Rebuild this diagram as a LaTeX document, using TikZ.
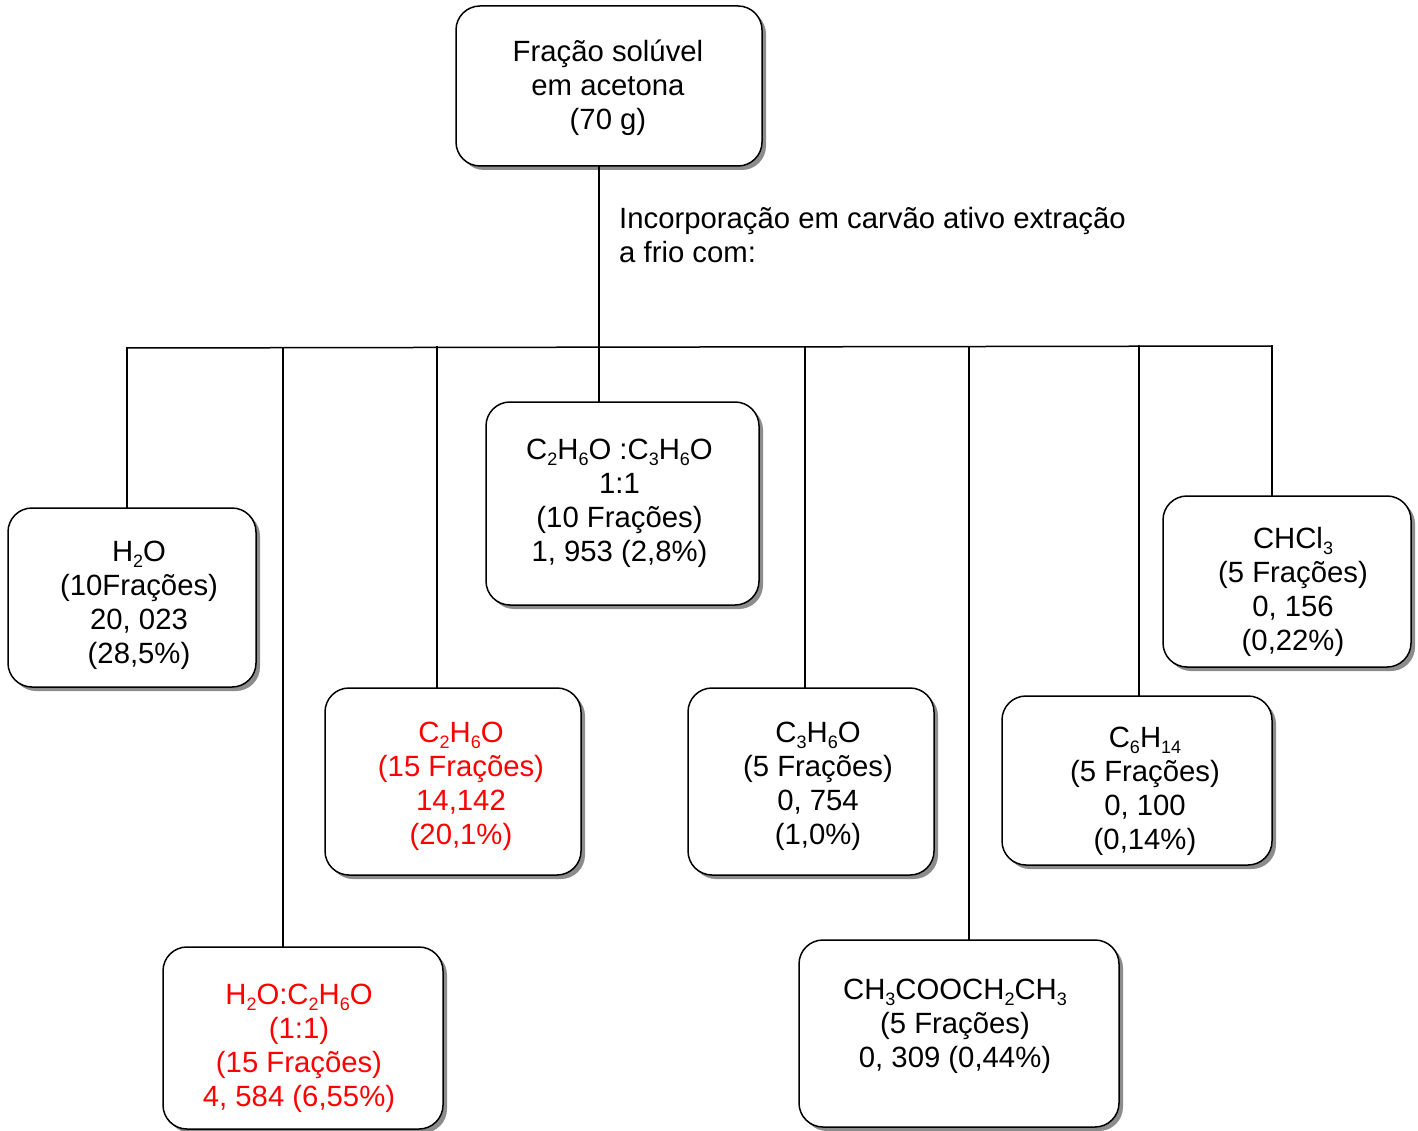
\documentclass[tikz,border=0pt]{standalone}
\usepackage{fontspec}
\setmainfont{Liberation Sans}
\usetikzlibrary{shadows}
\newcommand{\sbs}[1]{\raisebox{-6pt}{\fontsize{18}{18}\selectfont #1}}
\newcommand{\tx}[3]{\raisebox{#2}[\height][\depth]{\kern#1\begin{tabular}{@{}c@{}}#3\end{tabular}\kern-#1}}
\tikzset{
  box/.style={draw, line width=1.5pt, rounded corners=24pt, fill=white, align=center,
    drop shadow={shadow xshift=4pt, shadow yshift=-4pt, fill=black!45, opacity=1},
    font=\fontsize{29.3}{34}\selectfont, inner sep=0pt},
  redbox/.style={box, text=red},
  conn/.style={line width=1.5pt, line cap=rect}
}
\begin{document}
\begin{tikzpicture}[x=1pt,y=-1pt]
\useasboundingbox (0,0) rectangle (1418,1131);

\node[box, minimum width=306pt, minimum height=160pt] (top) at (609,86)
  {\tx{-1pt}{-3pt}{Fração solúvel\\em acetona\\(70 g)}};
\node[box, minimum width=248pt, minimum height=179pt] (h2o) at (132,597.5)
  {\tx{7pt}{-8pt}{H\sbs{2}O\\(10Frações)\\20, 023\\(28,5\%)}};
\node[box, minimum width=273pt, minimum height=203pt] (mix) at (622.5,503.5)
  {\tx{-3pt}{0pt}{C\sbs{2}H\sbs{6}O :C\sbs{3}H\sbs{6}O\\1:1\\(10 Frações)\\1, 953 (2,8\%)}};
\node[box, minimum width=248pt, minimum height=171pt] (chcl) at (1287,581.5)
  {\tx{6pt}{-11pt}{CHCl\sbs{3}\\(5 Frações)\\0, 156\\(0,22\%)}};
\node[redbox, minimum width=256pt, minimum height=187pt] (etoh) at (453,781.5)
  {\tx{8pt}{-5pt}{C\sbs{2}H\sbs{6}O\\(15 Frações)\\14,142\\(20,1\%)}};
\node[box, minimum width=246pt, minimum height=187pt] (acet) at (811,781.5)
  {\tx{7pt}{-5pt}{C\sbs{3}H\sbs{6}O\\(5 Frações)\\0, 754\\(1,0\%)}};
\node[box, minimum width=270pt, minimum height=169pt] (hex) at (1137,780.5)
  {\tx{8pt}{-11pt}{C\sbs{6}H\sbs{14}\\(5 Frações)\\0, 100\\(0,14\%)}};
\node[redbox, minimum width=280pt, minimum height=182pt] (wetoh) at (303,1038)
  {\tx{-4pt}{-11pt}{H\sbs{2}O:C\sbs{2}H\sbs{6}O\\(1:1)\\(15 Frações)\\4, 584 (6,55\%)}};
\node[box, minimum width=320pt, minimum height=187pt] (ea) at (959,1033.5)
  {\tx{-4pt}{7pt}{CH\sbs{3}COOCH\sbs{2}CH\sbs{3}\\(5 Frações)\\0, 309 (0,44\%)}};

\node[anchor=north west, align=left, inner sep=0pt, font=\fontsize{29.3}{34}\selectfont] (lbl) at (619,207)
  {Incorporação em carvão ativo extração\\a frio com:};

\coordinate (c0) at (599,347);
\coordinate (b1) at (127,348);
\coordinate (b2) at (283,348);
\coordinate (b3) at (437,347);
\coordinate (b5) at (805,347);
\coordinate (b6) at (969,347);
\coordinate (b7) at (1139,346);
\coordinate (b8) at (1272,346);

\draw[conn] (top.south -| c0) -- (c0);
\draw[conn] (b1) -- (b8);
\draw[conn] (b1) -- (b1 |- h2o.north);
\draw[conn] (b2) -- (b2 |- wetoh.north);
\draw[conn] (b3) -- (b3 |- etoh.north);
\draw[conn] (c0) -- (c0 |- mix.north);
\draw[conn] (b5) -- (b5 |- acet.north);
\draw[conn] (b6) -- (b6 |- ea.north);
\draw[conn] (b7) -- (b7 |- hex.north);
\draw[conn] (b8) -- (b8 |- chcl.north);
\end{tikzpicture}
\end{document}
